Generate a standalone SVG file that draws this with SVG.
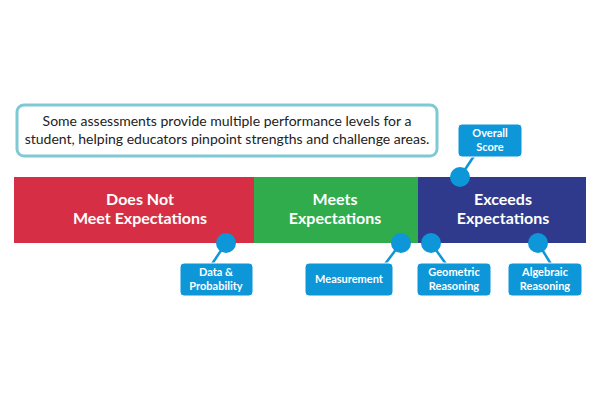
<svg xmlns="http://www.w3.org/2000/svg" width="600" height="400" viewBox="0 0 600 400">
<style>
.t{font-family:"Lato","Liberation Sans",sans-serif;fill:#fff;text-anchor:middle;font-weight:bold}
.big{font-size:16px}
.sm{font-size:11px}
.lbl{fill:#0d96d8;stroke:#fff;stroke-width:1}
.dot{fill:#0d96d8}
.ln{stroke:#0d96d8;stroke-width:2.5}
</style>
<rect width="600" height="400" fill="#fff"/>
<g id="note"><rect x="17" y="105" width="420" height="51" rx="7" fill="#fff" stroke="#7fc9d4" stroke-width="3"/>
<text x="227" y="126" font-family="Lato,Liberation Sans,sans-serif" font-size="14" text-anchor="middle" fill="#222">Some assessments provide multiple performance levels for a</text>
<text x="227" y="144" font-family="Lato,Liberation Sans,sans-serif" font-size="14" text-anchor="middle" fill="#222">student, helping educators pinpoint strengths and challenge areas.</text></g>
<g id="bar">
<rect x="14" y="177" width="240" height="66" fill="#d62f45"/>
<rect x="254" y="177" width="164" height="66" fill="#30ac4c"/>
<rect x="418" y="177" width="168" height="66" fill="#2f3a8c"/>
<text class="t big" x="140" y="205">Does Not</text><text class="t big" x="140" y="224">Meet Expectations</text>
<text class="t big" x="335" y="205">Meets</text><text class="t big" x="335" y="224">Expectations</text>
<text class="t big" x="503" y="205">Exceeds</text><text class="t big" x="503" y="224">Expectations</text>
</g>
<g id="connectors">
<line class="ln" x1="226" y1="243" x2="212" y2="264"/>
<line class="ln" x1="401" y1="243" x2="385" y2="264"/>
<line class="ln" x1="431" y1="243" x2="446" y2="264"/>
<line class="ln" x1="538" y1="243" x2="551" y2="264"/>
<line class="ln" x1="460" y1="177" x2="474" y2="156"/>
</g>
<g id="dots"><circle class="dot" cx="226" cy="243" r="10"/><circle class="dot" cx="401" cy="243" r="10"/><circle class="dot" cx="431" cy="243" r="10"/><circle class="dot" cx="538" cy="243" r="10"/><circle class="dot" cx="460" cy="177" r="10"/></g>
<g id="n-data"><rect class="lbl" x="180" y="263" width="73" height="33" rx="4"/><text class="t sm" x="216" y="276">Data &amp;</text><text class="t sm" x="216" y="290">Probability</text></g>
<g id="n-meas"><rect class="lbl" x="305" y="263" width="88" height="33" rx="4"/><text class="t sm" x="349" y="283">Measurement</text></g>
<g id="n-geo"><rect class="lbl" x="417" y="263" width="74" height="33" rx="4"/><text class="t sm" x="454" y="276">Geometric</text><text class="t sm" x="454" y="290">Reasoning</text></g>
<g id="n-alg"><rect class="lbl" x="508" y="263" width="74" height="33" rx="4"/><text class="t sm" x="545" y="276">Algebraic</text><text class="t sm" x="545" y="290">Reasoning</text></g>
<g id="n-overall"><rect class="lbl" x="458" y="124" width="64" height="33" rx="4"/><text class="t sm" x="490" y="137">Overall</text><text class="t sm" x="490" y="151">Score</text></g>
</svg>
